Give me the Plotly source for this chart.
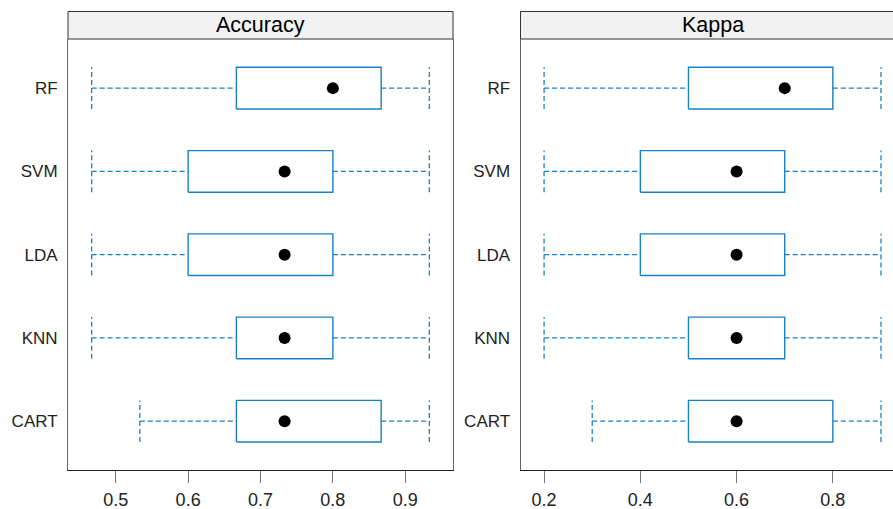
import plotly.graph_objects as go

# ---- data ----
models = ["CART", "KNN", "LDA", "SVM", "RF"]  # bottom -> top

acc_min = [0.5333, 0.4667, 0.4667, 0.4667, 0.4667]
acc_q1 = [0.6667, 0.6667, 0.6000, 0.6000, 0.6667]
acc_med = [0.7333, 0.7333, 0.7333, 0.7333, 0.8000]
acc_q3 = [0.8667, 0.8000, 0.8000, 0.8000, 0.8667]
acc_max = [0.9333, 0.9333, 0.9333, 0.9333, 0.9333]

kap_min = [0.3, 0.2, 0.2, 0.2, 0.2]
kap_q1 = [0.5, 0.5, 0.4, 0.4, 0.5]
kap_med = [0.6, 0.6, 0.6, 0.6, 0.7]
kap_q3 = [0.8, 0.7, 0.7, 0.7, 0.8]
kap_max = [0.9, 0.9, 0.9, 0.9, 0.9]

panels = ["Accuracy", "Kappa"]
acc_ticks = [0.5, 0.6, 0.7, 0.8, 0.9]
kap_ticks = [0.2, 0.4, 0.6, 0.8]

# ---- style ----
BLUE = "#1a80c4"
HALF = 0.25
FONT = "Liberation Sans, Arial, sans-serif"

fig = go.Figure()


def add_panel(mn, q1, med, q3, mx, xa, ya):
    pos = list(range(1, len(models) + 1))
    wx, wy = [], []
    bx, by = [], []
    for p, a, b, c, d in zip(pos, mn, q1, q3, mx):
        wx += [a, b, None, c, d, None, a, a, None, d, d, None]
        wy += [p, p, None, p, p, None, p - HALF, p + HALF, None, p - HALF, p + HALF, None]
        bx += [b, c, c, b, b, None]
        by += [p - HALF, p - HALF, p + HALF, p + HALF, p - HALF, None]
    fig.add_trace(go.Scatter(x=wx, y=wy, mode="lines", xaxis=xa, yaxis=ya,
                             line=dict(color=BLUE, width=1.3, dash="5px,3px"),
                             hoverinfo="skip", showlegend=False))
    fig.add_trace(go.Scatter(x=bx, y=by, mode="lines", xaxis=xa, yaxis=ya,
                             line=dict(color=BLUE, width=1.4),
                             hoverinfo="skip", showlegend=False))
    fig.add_trace(go.Scatter(x=med, y=pos, mode="markers", xaxis=xa, yaxis=ya,
                             marker=dict(color="black", size=12),
                             hoverinfo="skip", showlegend=False))


add_panel(acc_min, acc_q1, acc_med, acc_q3, acc_max, "x", "y")
add_panel(kap_min, kap_q1, kap_med, kap_q3, kap_max, "x2", "y2")

W, H = 893, 509
L1, R1 = 68 / W, 453 / W
L2, R2 = 520.5 / W, 1.0
YB, YT = (H - 469.5) / H, (H - 39) / H
ST = (H - 11.5) / H

xcommon = dict(showgrid=False, zeroline=False, showline=True, linecolor="#222",
               linewidth=1, ticks="outside", ticklen=12, tickcolor="#777",
               ticklabelstandoff=2,
               tickfont=dict(family=FONT, size=18, color="#222"))
ycommon = dict(showgrid=False, zeroline=False, showline=True, linecolor="#666",
               linewidth=1, range=[0.42, 5.59], tickvals=list(range(1, 6)),
               ticktext=models, ticks="", ticklabelstandoff=6, mirror=True,
               tickfont=dict(family=FONT, size=17, color="#222"))

fig.update_layout(
    width=W, height=H, autosize=False,
    margin=dict(l=0, r=0, t=0, b=0, pad=0, autoexpand=False),
    paper_bgcolor="white", plot_bgcolor="white",
    hovermode=False, dragmode=False,
    xaxis=dict(domain=[L1, R1], range=[0.434, 0.966], tickvals=acc_ticks,
               anchor="y", **xcommon),
    yaxis=dict(domain=[YB, YT], anchor="x", **ycommon),
    xaxis2=dict(domain=[L2, R2], range=[0.151, 0.925], tickvals=kap_ticks,
                anchor="y2", **xcommon),
    yaxis2=dict(domain=[YB, YT], anchor="x2", **ycommon),
)

shapes = []
annotations = []
strip_px = [(68, 453), (520.5, 910)]
strip_centre_px = [(68 + 453) / 2, (520.5 + 905) / 2]
for name, (lp, rp), cpx in zip(panels, strip_px, strip_centre_px):
    shapes.append(dict(type="rect", xref="paper", yref="paper", x0=lp / W, x1=rp / W,
                       y0=YT, y1=ST, fillcolor="#f2f2f2",
                       line=dict(color="#333", width=1), layer="below"))
    annotations.append(dict(xref="paper", yref="paper", x=cpx / W,
                            y=(YT + ST) / 2, xanchor="center", yanchor="middle",
                            text=name, showarrow=False,
                            font=dict(family=FONT, size=21.5, color="black")))

fig.update_layout(shapes=shapes, annotations=annotations)
fig.write_html("out.html", default_width="893px", default_height="509px",
               config={"displayModeBar": False, "staticPlot": True, "responsive": False},
               post_script="document.body.style.margin='0';document.body.style.overflow='hidden';")
